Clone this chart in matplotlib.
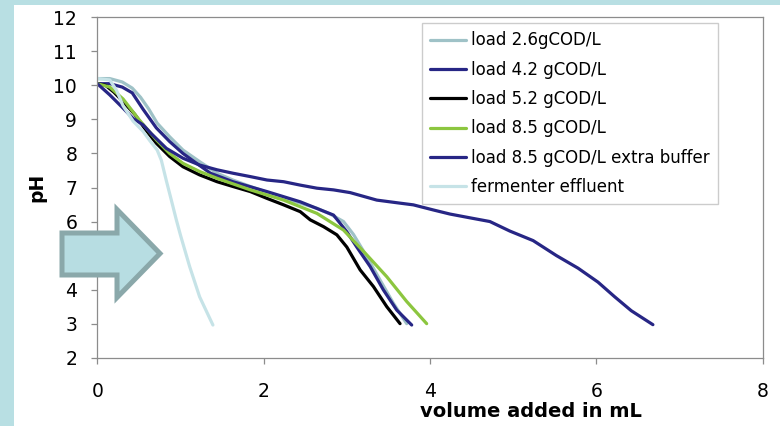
import matplotlib
matplotlib.use("Agg")
import matplotlib.pyplot as plt
from matplotlib.patches import Polygon, Rectangle

# ---- data ----
x_26 = [0, 0.15, 0.30, 0.42, 0.52, 0.62, 0.72, 0.87, 1.03, 1.23, 1.44, 1.63, 1.84, 2.04,
        2.24, 2.44, 2.64, 2.80, 2.96, 3.08, 3.24, 3.40, 3.56, 3.72]
y_26 = [10.2, 10.2, 10.1, 9.92, 9.65, 9.3, 8.89, 8.49, 8.10, 7.76, 7.42, 7.22, 7.03, 6.86,
        6.68, 6.54, 6.39, 6.22, 6.0, 5.62, 4.97, 4.28, 3.60, 3.0]

x_42 = [0, 0.15, 0.30, 0.42, 0.55, 0.71, 0.87, 1.03, 1.20, 1.36, 1.63, 2.04, 2.44, 2.84,
        3.0, 3.12, 3.28, 3.44, 3.60, 3.78]
y_42 = [10.05, 10.05, 9.95, 9.78, 9.3, 8.75, 8.35, 8.0, 7.7, 7.42, 7.17, 6.88, 6.58, 6.19,
        5.7, 5.25, 4.68, 3.99, 3.40, 2.96]

x_52 = [0, 0.10, 0.20, 0.30, 0.45, 0.58, 0.71, 0.87, 1.03, 1.23, 1.44, 1.63, 1.84, 2.04,
        2.24, 2.44, 2.56, 2.72, 2.88, 3.0, 3.16, 3.32, 3.48, 3.64]
y_52 = [10.05, 10.0, 9.8, 9.55, 9.15, 8.7, 8.30, 7.91, 7.61, 7.37, 7.17, 7.03, 6.88, 6.68,
        6.49, 6.29, 6.05, 5.85, 5.61, 5.25, 4.58, 4.09, 3.50, 3.0]

x_85 = [0, 0.15, 0.31, 0.50, 0.71, 0.87, 1.03, 1.23, 1.44, 1.84, 2.24, 2.64, 2.96, 3.24,
        3.48, 3.72, 3.96]
y_85 = [10.05, 9.95, 9.6, 9.0, 8.40, 8.0, 7.71, 7.47, 7.27, 6.93, 6.63, 6.24, 5.75, 5.02,
        4.38, 3.65, 3.0]

x_85b = [0, 0.15, 0.31, 0.43, 0.55, 0.65, 0.83, 1.03, 1.23, 1.44, 1.63, 1.84, 2.04, 2.24,
         2.44, 2.64, 2.84, 3.04, 3.36, 3.64, 3.80, 4.04, 4.24, 4.50, 4.72, 4.96, 5.24, 5.52,
         5.78, 6.02, 6.22, 6.42, 6.68]
y_85b = [10.05, 9.72, 9.33, 9.03, 8.84, 8.58, 8.15, 7.86, 7.66, 7.52, 7.42, 7.32, 7.22, 7.17,
         7.07, 6.98, 6.93, 6.85, 6.63, 6.54, 6.49, 6.34, 6.22, 6.1, 6.0, 5.72, 5.44, 5.0,
         4.63, 4.22, 3.79, 3.38, 2.97]

x_eff = [0, 0.15, 0.23, 0.31, 0.43, 0.55, 0.63, 0.72, 0.77, 0.83, 0.89, 0.95, 1.00, 1.11,
         1.23, 1.39]
y_eff = [10.2, 10.16, 9.86, 9.4, 8.95, 8.65, 8.38, 8.1, 7.8, 7.2, 6.63, 6.05, 5.6, 4.68,
         3.79, 2.96]

labels = ["load 2.6gCOD/L", "load 4.2 gCOD/L", "load 5.2 gCOD/L", "load 8.5 gCOD/L",
          "load 8.5 gCOD/L extra buffer", "fermenter effluent"]
colors = ["#9fc2c7", "#272685", "#000000", "#8cc63f", "#272685", "#c6e3e7"]
series = [(x_26, y_26), (x_42, y_42), (x_52, y_52), (x_85, y_85), (x_85b, y_85b), (x_eff, y_eff)]

x_ticks = [0, 2, 4, 6, 8]
y_ticks = [2, 3, 4, 5, 6, 7, 8, 9, 10, 11, 12]

W, H = 780, 426
fig = plt.figure(figsize=(W / 100, H / 100), dpi=100)
fig.patch.set_facecolor("#b8dfe3")
fig.patches.append(Rectangle((14 / W, 0), 1 - 14 / W, (H - 5) / H, transform=fig.transFigure,
                             facecolor="white", edgecolor="none", zorder=-5))

ax = fig.add_axes([97.3 / W, 1 - 357.7 / H, (762.7 - 97.3) / W, (357.7 - 17.3) / H])
ax.set_facecolor("white")

for (xs, ys), c, lab in zip(series, colors, labels):
    ax.plot(xs, ys, color=c, lw=2.3, label=lab, solid_joinstyle="round", solid_capstyle="round")

ax.set_xlim(0, 8)
ax.set_ylim(2, 12)
ax.set_xticks(x_ticks)
ax.set_yticks(y_ticks)
for s in ax.spines.values():
    s.set_color("#8c8c8c")
    s.set_linewidth(0.9)
ax.tick_params(axis="both", direction="out", color="#8c8c8c", width=0.9, length=4.5,
               labelsize=13.5, labelcolor="black")
ax.tick_params(axis="y", pad=10)
ax.tick_params(axis="x", pad=13)

ax.set_xlabel("volume added in mL", fontsize=14, fontweight="bold")
ax.xaxis.label.set_va("center")
ax.xaxis.set_label_coords(0.652, -0.157)
ax.set_ylabel("pH", fontsize=13.5, fontweight="bold")
ax.yaxis.label.set_va("center")
ax.yaxis.set_label_coords(-0.0906, 0.5)

leg = ax.legend(loc="upper left", bbox_to_anchor=(422 / W, 1 - 23 / H),
                bbox_transform=fig.transFigure, borderaxespad=0, fontsize=12,
                frameon=True, fancybox=False, edgecolor="#c0c0c0", handlelength=2.15,
                handletextpad=0.3, labelspacing=0.68, borderpad=0.5)
leg.get_frame().set_linewidth(1.0)

# block arrow annotation (pixel coordinates -> figure fraction)
arrow_px = [(62, 233), (117, 233), (117, 209.5), (160, 253.5), (117, 297.5), (117, 275), (62, 275)]
arrow = Polygon([(px / W, 1 - py / H) for px, py in arrow_px], closed=True,
                transform=fig.transFigure, facecolor="#b7dde2", edgecolor="#8aa8aa",
                linewidth=3.6, joinstyle="miter", zorder=10)
fig.patches.append(arrow)

fig.savefig("out.png", dpi=100, facecolor=fig.get_facecolor())
